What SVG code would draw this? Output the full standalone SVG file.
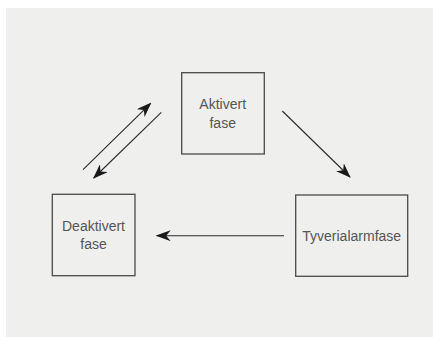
<svg xmlns="http://www.w3.org/2000/svg" width="433" height="337" viewBox="0 0 433 337">
<style>
.box{fill:none;stroke:#4a4a4a;stroke-width:1.3}
.lbl{font-family:"Liberation Sans",Arial,sans-serif;font-size:14px;fill:#555;text-anchor:middle}
.con{stroke:#2a2a2a;stroke-width:1.1;fill:none;marker-end:url(#ah)}
</style>
<defs>
<marker id="ah" viewBox="0 0 15 11" refX="14" refY="5.5" markerWidth="15" markerHeight="11" markerUnits="userSpaceOnUse" orient="auto">
<path d="M0,0 L15,5.5 L0,11 L4.5,5.5 Z" fill="#1a1a1a"/>
</marker>
</defs>
<rect x="6" y="8" width="427" height="329" fill="#efefee"/>
<g id="connectors">
<line class="con" x1="83" y1="169.7" x2="150.7" y2="103.3"/>
<line class="con" x1="161.3" y1="112.3" x2="93.7" y2="178"/>
<line class="con" x1="282.3" y1="111" x2="350" y2="177"/>
<line class="con" x1="284" y1="235.7" x2="156.7" y2="235.7"/>
</g>
<g id="aktivert">
<rect class="box" x="181.7" y="72.7" width="82.6" height="81.3"/>
<text class="lbl" x="222.7" y="109">Aktivert</text>
<text class="lbl" x="222.7" y="128">fase</text>
</g>
<g id="deaktivert">
<rect class="box" x="52.3" y="194.3" width="82.7" height="81.4"/>
<text class="lbl" x="93.5" y="231">Deaktivert</text>
<text class="lbl" x="93.5" y="249">fase</text>
</g>
<g id="tyverialarm">
<rect class="box" x="295.7" y="195" width="112" height="81.3"/>
<text class="lbl" x="351.7" y="240.7">Tyverialarmfase</text>
</g>
</svg>
